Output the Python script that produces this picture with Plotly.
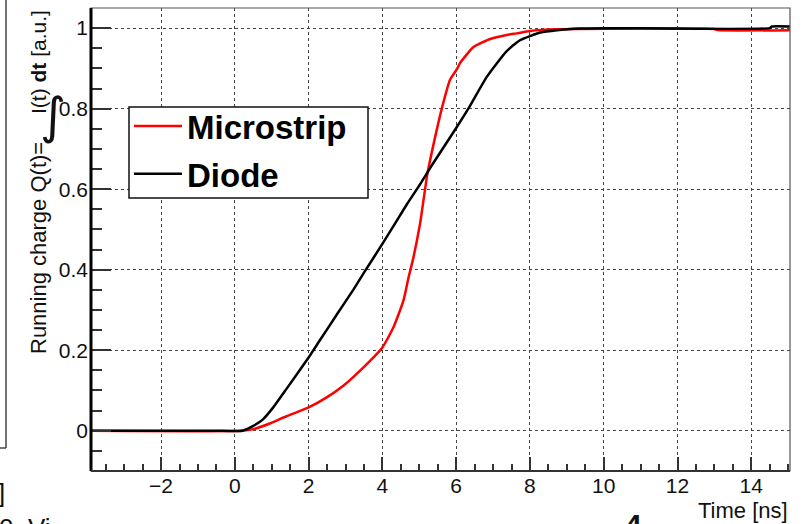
import plotly.graph_objects as go

# ---- data ----
t_diode = [-3.9, -1.1, -0.5, 0.2, 0.5, 0.77, 1.04, 1.4, 2.0, 2.3, 2.76, 3.21, 3.53,
           4.0, 4.66, 5.02, 5.31, 6.0, 6.33, 6.83, 7.37, 7.73, 8.28, 8.73, 9.36,
           10.0, 14.5, 14.56, 15.05]
q_diode = [0.0, 0.0, 0.0, 0.0, 0.012, 0.029, 0.058, 0.104, 0.182, 0.224, 0.288, 0.35, 0.397,
           0.464, 0.562, 0.612, 0.655, 0.752, 0.8, 0.879, 0.943, 0.97, 0.989, 0.995, 0.999,
           1.0, 1.0, 1.004, 1.004]

t_strip = [-3.9, 0.2, 0.5, 0.95, 1.4, 2.0, 2.49, 2.94, 3.48, 4.0, 4.3, 4.57, 4.70, 4.84,
           5.02, 5.22, 5.47, 5.61, 5.83, 6.02, 6.11, 6.47, 6.92, 7.37, 7.64, 8.0, 8.73,
           13.0, 13.1, 15.05]
q_strip = [0.0, 0.0, 0.004, 0.018, 0.036, 0.058, 0.083, 0.112, 0.157, 0.207, 0.257, 0.323,
           0.377, 0.43, 0.514, 0.638, 0.746, 0.8, 0.871, 0.898, 0.914, 0.953, 0.973, 0.983,
           0.987, 0.993, 0.997, 0.998, 0.995, 0.995]

x_ticks = [-2, 0, 2, 4, 6, 8, 10, 12, 14]
y_ticks = [0, 0.2, 0.4, 0.6, 0.8, 1]
y_tick_text = ["0", "0.2", "0.4", "0.6", "0.8", "1"]

FONT = "Liberation Sans, Arial, Helvetica, sans-serif"

W, H = 810, 524
L, R, T, B = 91, 20, 8, 53
PW, PH = W - L - R, H - T - B


def px(x):
    return (x - L) / PW


def py(y):
    return (H - B - y) / PH


fig = go.Figure()
fig.add_trace(go.Scatter(x=t_strip, y=q_strip, mode="lines", name="Microstrip",
                         line=dict(color="#ff0000", width=2.5, shape="spline", smoothing=0.5),
                         legendgroup="a"))
fig.add_trace(go.Scatter(x=t_diode, y=q_diode, mode="lines", name="Diode",
                         line=dict(color="#000000", width=2.5, shape="spline", smoothing=0.5),
                         legendgroup="b"))

axis_common = dict(showgrid=True, griddash="dot", gridcolor="#444", gridwidth=1,
                   zeroline=False, showline=False, ticks="inside", tickcolor="#333",
                   tickwidth=1.5, tickfont=dict(family=FONT, size=21, color="#111"))

fig.update_xaxes(range=[-3.9, 15.05], tickvals=x_ticks, ticklen=14,
                 minor=dict(ticks="inside", ticklen=7, dtick=0.5, tick0=0,
                            tickcolor="#333", tickwidth=1.5, showgrid=False),
                 **axis_common)
fig.update_yaxes(range=[-0.1, 1.05], tickvals=y_ticks, ticktext=y_tick_text, ticklen=20,
                 ticklabelstandoff=2,
                 minor=dict(ticks="inside", ticklen=11, dtick=0.05, tick0=0,
                            tickcolor="#333", tickwidth=1.5, showgrid=False),
                 **axis_common)

shapes = [
    dict(type="rect", xref="paper", yref="paper", x0=0, x1=1, y0=0, y1=1,
         line=dict(color="#555", width=1.2)),
    dict(type="line", xref="paper", yref="paper", x0=0, x1=0, y0=0, y1=1,
         line=dict(color="#000", width=3)),
    dict(type="line", xref="paper", yref="paper", x0=0, x1=1, y0=0, y1=0,
         line=dict(color="#333", width=2)),
    # legend frame
    dict(type="rect", xref="paper", yref="paper", x0=px(129), x1=px(368),
         y0=py(198), y1=py(107), fillcolor="white", layer="above",
         line=dict(color="#111", width=1.5)),
    # fragment of neighbouring figure at the left edge
    dict(type="line", xref="paper", yref="paper", x0=px(6), x1=px(6), y0=py(448), y1=py(-2),
         line=dict(color="#444", width=1.5)),
    dict(type="line", xref="paper", yref="paper", x0=px(-2), x1=px(6), y0=py(448), y1=py(448),
         line=dict(color="#444", width=1.5)),
]

annotations = [
    # y-axis title, split around the (unrotated) integral sign as in the ROOT original
    dict(xref="paper", yref="paper", x=px(38), y=py(140), xanchor="center", yanchor="top",
         textangle=-90, showarrow=False, text="Running charge Q(t)=",
         font=dict(family=FONT, size=22, color="#111")),
    dict(xref="paper", yref="paper", x=px(53), y=py(116), xanchor="center", yanchor="middle",
         showarrow=False, text="\u222b",
         font=dict(family="DejaVu Sans", size=50, color="#111")),
    dict(xref="paper", yref="paper", x=px(38), y=py(8), xanchor="center", yanchor="top",
         textangle=-90, showarrow=False, text="I(t) <b>dt</b> [a.u.]",
         font=dict(family=FONT, size=21, color="#111")),
    dict(xref="paper", yref="paper", x=1.0, y=py(510), xanchor="right", yanchor="middle",
         showarrow=False, text="Time [ns]", font=dict(family=FONT, size=22, color="#111")),
    dict(xref="paper", yref="paper", x=px(7), y=py(493), xanchor="right", yanchor="middle",
         showarrow=False, text="]", font=dict(family=FONT, size=26, color="#111")),
    dict(xref="paper", yref="paper", x=px(-3), y=py(511), xanchor="left", yanchor="top",
         showarrow=False, text="0. Vi", font=dict(family=FONT, size=26, color="#111")),
    dict(xref="paper", yref="paper", x=px(633), y=py(506), xanchor="center", yanchor="top",
         showarrow=False, text="<b>4</b>", font=dict(family=FONT, size=30, color="#111")),
]

fig.update_layout(
    width=W, height=H, margin=dict(l=L, r=R, t=T, b=B),
    paper_bgcolor="white", plot_bgcolor="white",
    showlegend=True,
    legend=dict(x=px(129), y=py(98), xanchor="left", yanchor="top",
                bgcolor="rgba(0,0,0,0)", borderwidth=0,
                font=dict(family=FONT, size=33, color="#000", weight="bold"),
                tracegroupgap=2, itemwidth=48),
    shapes=shapes, annotations=annotations,
)

fig.write_html("out.html")
